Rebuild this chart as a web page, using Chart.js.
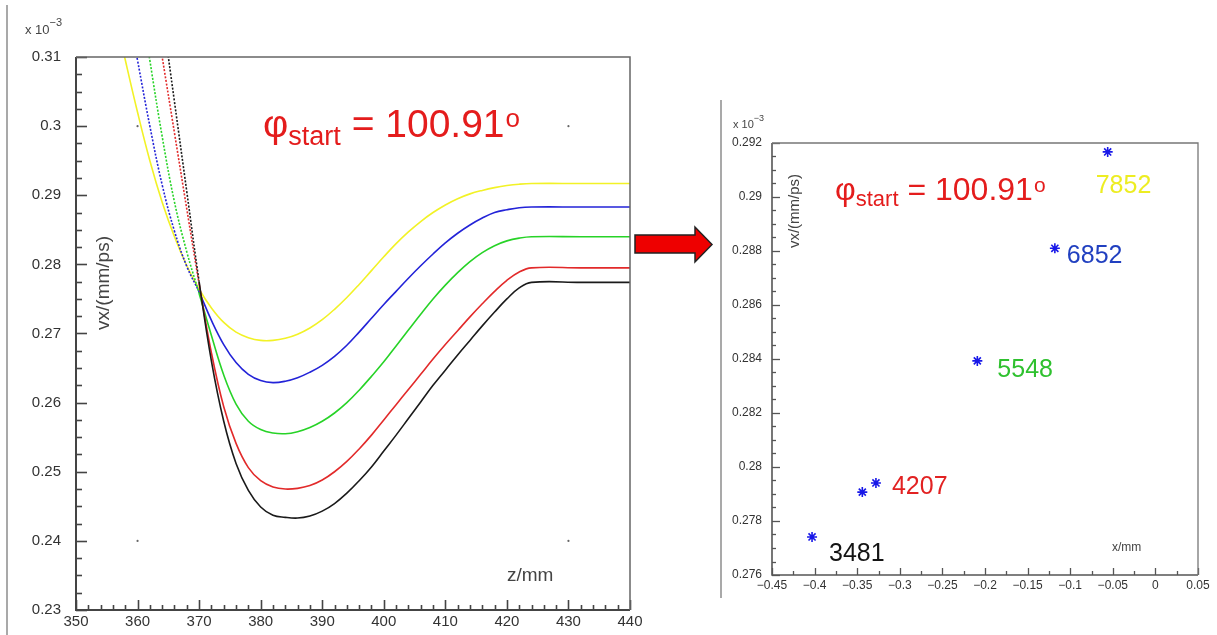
<!DOCTYPE html>
<html>
<head>
<meta charset="utf-8">
<script src="https://cdn.jsdelivr.net/npm/chart.js@4.4.1/dist/chart.umd.min.js"></script>
<style>
  html, body { margin: 0; padding: 0; background: #fff; }
  body { width: 1217px; height: 635px; position: relative; overflow: hidden; }
  .wrap { position: absolute; top: 0; height: 635px; }
  #left-wrap { left: 0; width: 650px; }
  #right-wrap { left: 722px; width: 495px; }
  .edge { position: absolute; width: 2px; background: #a9a9a9; }
  #arrow { position: absolute; left: 630px; top: 220px; }
</style>
</head>
<body>
<div class="edge" style="left:6px; top:5px; height:630px;"></div>
<div class="edge" style="left:720px; top:100px; height:498px;"></div>
<div class="wrap" id="left-wrap"><canvas id="vx-curves"></canvas></div>
<div class="wrap" id="right-wrap"><canvas id="vx-final"></canvas></div>
<svg id="arrow" width="90" height="50">
  <polygon points="5,15 65,15 65,7 82,24.5 65,42 65,33 5,33" fill="#ee0000" stroke="#222" stroke-width="1.5"/>
</svg>
<script>
const FONT = '"Liberation Sans", Arial, Helvetica, sans-serif';
Chart.defaults.font.family = FONT;

// z positions (mm) where each trajectory's vx is sampled, vx in units of 1e-3 mm/ps
const zGrid = [356, 358, 360, 362, 364, 366, 368, 370, 372, 374, 376, 378, 380, 382, 384, 386, 388, 390,
               392, 394, 396, 398, 400, 402, 404, 406, 408, 410, 412, 414, 416, 418, 420, 422, 424, 432, 440];
const vxYellow = [0.3175, 0.3096, 0.3020, 0.2950, 0.2890, 0.2840, 0.2798, 0.2764, 0.2737, 0.2716,
                  0.2702, 0.2694, 0.2690, 0.2690, 0.2693, 0.2699, 0.2708, 0.2720, 0.2735, 0.2752,
                  0.2771, 0.2791, 0.2811, 0.2830, 0.2847, 0.2862, 0.2875, 0.2886, 0.2895, 0.2902,
                  0.2907, 0.2911, 0.2914, 0.2916, 0.2917, 0.2917, 0.2917];
const vxBlue = [0.3288, 0.3192, 0.3095, 0.3000, 0.2915, 0.2848, 0.2797, 0.2760, 0.2719, 0.2684,
                0.2658, 0.2641, 0.2632, 0.2629, 0.2631, 0.2636, 0.2644, 0.2654, 0.2667, 0.2683,
                0.2702, 0.2722, 0.2742, 0.2761, 0.2780, 0.2798, 0.2815, 0.2831, 0.2845, 0.2857,
                0.2867, 0.2875, 0.2879, 0.2882, 0.2883, 0.2883, 0.2883];
const vxGreen = [0.3430, 0.3320, 0.3212, 0.3095, 0.2985, 0.2890, 0.2818, 0.2758, 0.2697, 0.2640,
                 0.2598, 0.2573, 0.2561, 0.2556, 0.2555, 0.2558, 0.2564, 0.2573, 0.2585, 0.2600,
                 0.2618, 0.2638, 0.2659, 0.2682, 0.2705, 0.2728, 0.2750, 0.2770, 0.2788, 0.2804,
                 0.2817, 0.2827, 0.2834, 0.2838, 0.2840, 0.2840, 0.2840];
const vxRed = [0.3540, 0.3430, 0.3320, 0.3210, 0.3100, 0.2990, 0.2880, 0.2772, 0.2672, 0.2594,
               0.2541, 0.2506, 0.2487, 0.2478, 0.2475, 0.2476, 0.2480, 0.2488, 0.2500, 0.2515,
               0.2533, 0.2553, 0.2575, 0.2597, 0.2619, 0.2641, 0.2663, 0.2684, 0.2704, 0.2724,
               0.2743, 0.2761, 0.2777, 0.2789, 0.2795, 0.2795, 0.2795];
const vxBlack = [0.3685, 0.3555, 0.3425, 0.3295, 0.3165, 0.3035, 0.2905, 0.2775, 0.2660, 0.2573,
                 0.2512, 0.2473, 0.2449, 0.2437, 0.2434, 0.2433, 0.2436, 0.2443, 0.2454, 0.2469,
                 0.2487, 0.2507, 0.2530, 0.2553, 0.2577, 0.2601, 0.2625, 0.2647, 0.2669, 0.2690,
                 0.2711, 0.2731, 0.2750, 0.2766, 0.2774, 0.2774, 0.2774];
// reference marks on the left frame
const markZ = [360, 360, 430, 430];
const markVx = [0.30, 0.24, 0.30, 0.24];

// final x position and vx of each run
const runX = [-0.403, -0.344, -0.328, -0.209, -0.118, -0.056];
const runVx = [0.27741, 0.27907, 0.27941, 0.28393, 0.2881, 0.29167];
const runNames = ['3481', '', '4207', '5548', '6852', '7852'];

const phiStart = 100.91;

const zTicks = [350, 360, 370, 380, 390, 400, 410, 420, 430, 440];
const vxTicksLeft = [0.23, 0.24, 0.25, 0.26, 0.27, 0.28, 0.29, 0.30, 0.31];
const xTicksRight = [-0.45, -0.4, -0.35, -0.3, -0.25, -0.2, -0.15, -0.1, -0.05, 0, 0.05];
const vxTicksRight = [0.276, 0.278, 0.28, 0.282, 0.284, 0.286, 0.288, 0.29, 0.292];

const fmt = v => (v < 0 ? '\u2212' : '') + String(+Math.abs(v).toFixed(3));

// frame with inward major/minor ticks, ROOT style
function drawFrame(chart, s) {
  const { ctx, chartArea: a, scales: { x, y } } = chart;
  ctx.save();
  ctx.strokeStyle = s.color;
  ctx.lineWidth = s.tickWidth;
  const nx = Math.round((x.max - x.min) / s.xMinor);
  for (let i = 0; i <= nx; i++) {
    const px = Math.round(x.getPixelForValue(x.min + i * s.xMinor)) + 0.5;
    const len = i % s.xEvery === 0 ? s.xLen[0] : s.xLen[1];
    ctx.beginPath(); ctx.moveTo(px, a.bottom); ctx.lineTo(px, a.bottom - len); ctx.stroke();
  }
  const ny = Math.round((y.max - y.min) / s.yMinor);
  for (let i = 0; i <= ny; i++) {
    const py = Math.round(y.getPixelForValue(y.min + i * s.yMinor)) + 0.5;
    const len = i % s.yEvery === 0 ? s.yLen[0] : s.yLen[1];
    ctx.beginPath(); ctx.moveTo(a.left, py); ctx.lineTo(a.left + len, py); ctx.stroke();
  }
  ctx.lineWidth = s.axisWidth;
  ctx.beginPath();
  ctx.moveTo(a.left, a.top); ctx.lineTo(a.left, a.bottom); ctx.lineTo(a.right, a.bottom);
  ctx.stroke();
  ctx.strokeStyle = s.boxColor;
  ctx.lineWidth = s.boxWidth;
  ctx.beginPath();
  ctx.moveTo(a.left, a.top); ctx.lineTo(a.right, a.top); ctx.lineTo(a.right, a.bottom);
  ctx.stroke();
  ctx.restore();
}

function drawPhi(ctx, x, y, size) {
  ctx.save();
  ctx.fillStyle = '#e41c1c';
  ctx.textAlign = 'left';
  ctx.textBaseline = 'alphabetic';
  ctx.font = `${size}px ${FONT}`;
  ctx.fillText('\u03c6', x, y);
  let cx = x + ctx.measureText('\u03c6').width;
  ctx.font = `${Math.round(size * 0.68)}px ${FONT}`;
  ctx.fillText('start', cx, y + size * 0.2);
  cx += ctx.measureText('start').width;
  const val = ' = ' + phiStart.toFixed(2);
  ctx.font = `${size}px ${FONT}`;
  ctx.fillText(val, cx, y);
  cx += ctx.measureText(val).width;
  ctx.font = `${Math.round(size * 0.66)}px ${FONT}`;
  ctx.fillText('o', cx + 1, y - size * 0.26);
  ctx.restore();
}

function drawExponent(ctx, x, y, size) {
  ctx.save();
  ctx.fillStyle = '#444';
  ctx.textAlign = 'left';
  ctx.font = `${size}px ${FONT}`;
  ctx.fillText('x 10', x, y);
  const w = ctx.measureText('x 10').width;
  ctx.font = `${Math.round(size * 0.85)}px ${FONT}`;
  ctx.fillText('\u22123', x + w, y - size * 0.6);
  ctx.restore();
}

function drawVertical(ctx, text, x, y, size) {
  ctx.save();
  ctx.translate(x, y);
  ctx.rotate(-Math.PI / 2);
  ctx.fillStyle = '#444';
  ctx.font = `${size}px ${FONT}`;
  ctx.textAlign = 'center';
  ctx.textBaseline = 'middle';
  ctx.fillText(text, 0, 0);
  ctx.restore();
}

// steep entry of the trajectories is drawn dotted
const makeCurve = (vals, color, dotted) => ({
  data: zGrid.map((z, i) => ({ x: z, y: vals[i] })),
  borderColor: color,
  borderWidth: 1.6,
  pointRadius: 0,
  tension: 0.4,
  segment: {
    borderDash: c => (dotted && c.p1.parsed.x <= 370 ? [2, 1.6] : undefined)
  }
});

const tickFont = (size) => ({ size: size, family: FONT });

new Chart(document.getElementById('vx-curves'), {
  type: 'line',
  data: {
    datasets: [
      makeCurve(vxBlack, '#1a1a1a', true),
      makeCurve(vxRed, '#e22a2a', true),
      makeCurve(vxGreen, '#27d327', true),
      makeCurve(vxBlue, '#2323d8', true),
      makeCurve(vxYellow, '#f2f226', false),
      {
        type: 'scatter',
        data: markZ.map((z, i) => ({ x: z, y: markVx[i] })),
        pointRadius: 1.1,
        pointBackgroundColor: '#666',
        pointBorderWidth: 0,
        showLine: false
      }
    ]
  },
  options: {
    responsive: true,
    maintainAspectRatio: false,
    animation: false,
    layout: { padding: { left: 0, top: 57, right: 20, bottom: 0 } },
    plugins: { legend: { display: false }, tooltip: { enabled: false } },
    scales: {
      x: {
        type: 'linear', min: 350, max: 440,
        afterBuildTicks: s => { s.ticks = zTicks.map(v => ({ value: v })); },
        afterFit: s => { s.height = 25; },
        grid: { display: false, drawTicks: false },
        border: { display: false },
        ticks: { padding: 3, color: '#333', font: tickFont(15), maxRotation: 0, autoSkip: false, callback: v => fmt(v) }
      },
      y: {
        type: 'linear', min: 0.23, max: 0.31,
        afterBuildTicks: s => { s.ticks = vxTicksLeft.map(v => ({ value: v })); },
        afterFit: s => { s.width = 76; },
        grid: { display: false, drawTicks: false },
        border: { display: false },
        ticks: { padding: 15, color: '#333', font: tickFont(15), autoSkip: false, callback: v => fmt(v) }
      }
    }
  },
  plugins: [{
    id: 'leftDecor',
    afterDraw(chart) {
      const ctx = chart.ctx;
      drawFrame(chart, {
        color: '#444', tickWidth: 1.6, axisWidth: 2, boxColor: '#666', boxWidth: 1.5,
        xMinor: 2, xEvery: 5, xLen: [10, 5], yMinor: 0.0025, yEvery: 4, yLen: [11, 6]
      });
      drawExponent(ctx, 25, 34, 13);
      drawVertical(ctx, 'vx/(mm/ps)', 104, 283, 19);
      ctx.save();
      ctx.fillStyle = '#444';
      ctx.font = `19px ${FONT}`;
      ctx.fillText('z/mm', 507, 581);
      ctx.restore();
      drawPhi(ctx, 263, 137, 39);
    }
  }]
});

// where each run's number sits relative to its marker, in pixels
const nameOffsets = [[17, 24], [0, 0], [16, 11], [20, 16], [12, 15], [-12, 41]];
const nameColors = ['#141414', '', '#e22222', '#2fc12f', '#2140c0', '#eded22'];

new Chart(document.getElementById('vx-final'), {
  type: 'scatter',
  data: {
    datasets: [{
      data: runX.map((x, i) => ({ x: x, y: runVx[i] })),
      pointStyle: 'star',
      pointRadius: 5,
      borderColor: '#1818e8',
      borderWidth: 1.6,
      showLine: false
    }]
  },
  options: {
    responsive: true,
    maintainAspectRatio: false,
    animation: false,
    layout: { padding: { left: 0, top: 143, right: 19, bottom: 0 } },
    plugins: { legend: { display: false }, tooltip: { enabled: false } },
    scales: {
      x: {
        type: 'linear', min: -0.45, max: 0.05,
        afterBuildTicks: s => { s.ticks = xTicksRight.map(v => ({ value: v })); },
        afterFit: s => { s.height = 60; },
        grid: { display: false, drawTicks: false },
        border: { display: false },
        ticks: { padding: 3, color: '#333', font: tickFont(12), maxRotation: 0, autoSkip: false, callback: v => fmt(v) }
      },
      y: {
        type: 'linear', min: 0.276, max: 0.292,
        afterBuildTicks: s => { s.ticks = vxTicksRight.map(v => ({ value: v })); },
        afterFit: s => { s.width = 50; },
        grid: { display: false, drawTicks: false },
        border: { display: false },
        ticks: { padding: 10, color: '#333', font: tickFont(12), autoSkip: false, callback: v => fmt(v) }
      }
    }
  },
  plugins: [{
    id: 'rightDecor',
    afterDraw(chart) {
      const ctx = chart.ctx;
      drawFrame(chart, {
        color: '#555', tickWidth: 1.3, axisWidth: 1.6, boxColor: '#777', boxWidth: 1.3,
        xMinor: 0.025, xEvery: 2, xLen: [7, 4], yMinor: 0.0005, yEvery: 4, yLen: [8, 4]
      });
      drawExponent(ctx, 11, 128, 11);
      drawVertical(ctx, 'vx/(mm/ps)', 73, 211, 15);
      ctx.save();
      ctx.fillStyle = '#444';
      ctx.font = `12px ${FONT}`;
      ctx.fillText('x/mm', 390, 551);
      ctx.restore();
      drawPhi(ctx, 113, 200, 32);

      const pts = chart.getDatasetMeta(0).data;
      ctx.save();
      ctx.font = `25px ${FONT}`;
      ctx.textAlign = 'left';
      ctx.textBaseline = 'alphabetic';
      runNames.forEach((name, i) => {
        if (!name) return;
        ctx.fillStyle = nameColors[i];
        ctx.fillText(name, pts[i].x + nameOffsets[i][0], pts[i].y + nameOffsets[i][1]);
      });
      ctx.restore();
    }
  }]
});
</script>
</body>
</html>
